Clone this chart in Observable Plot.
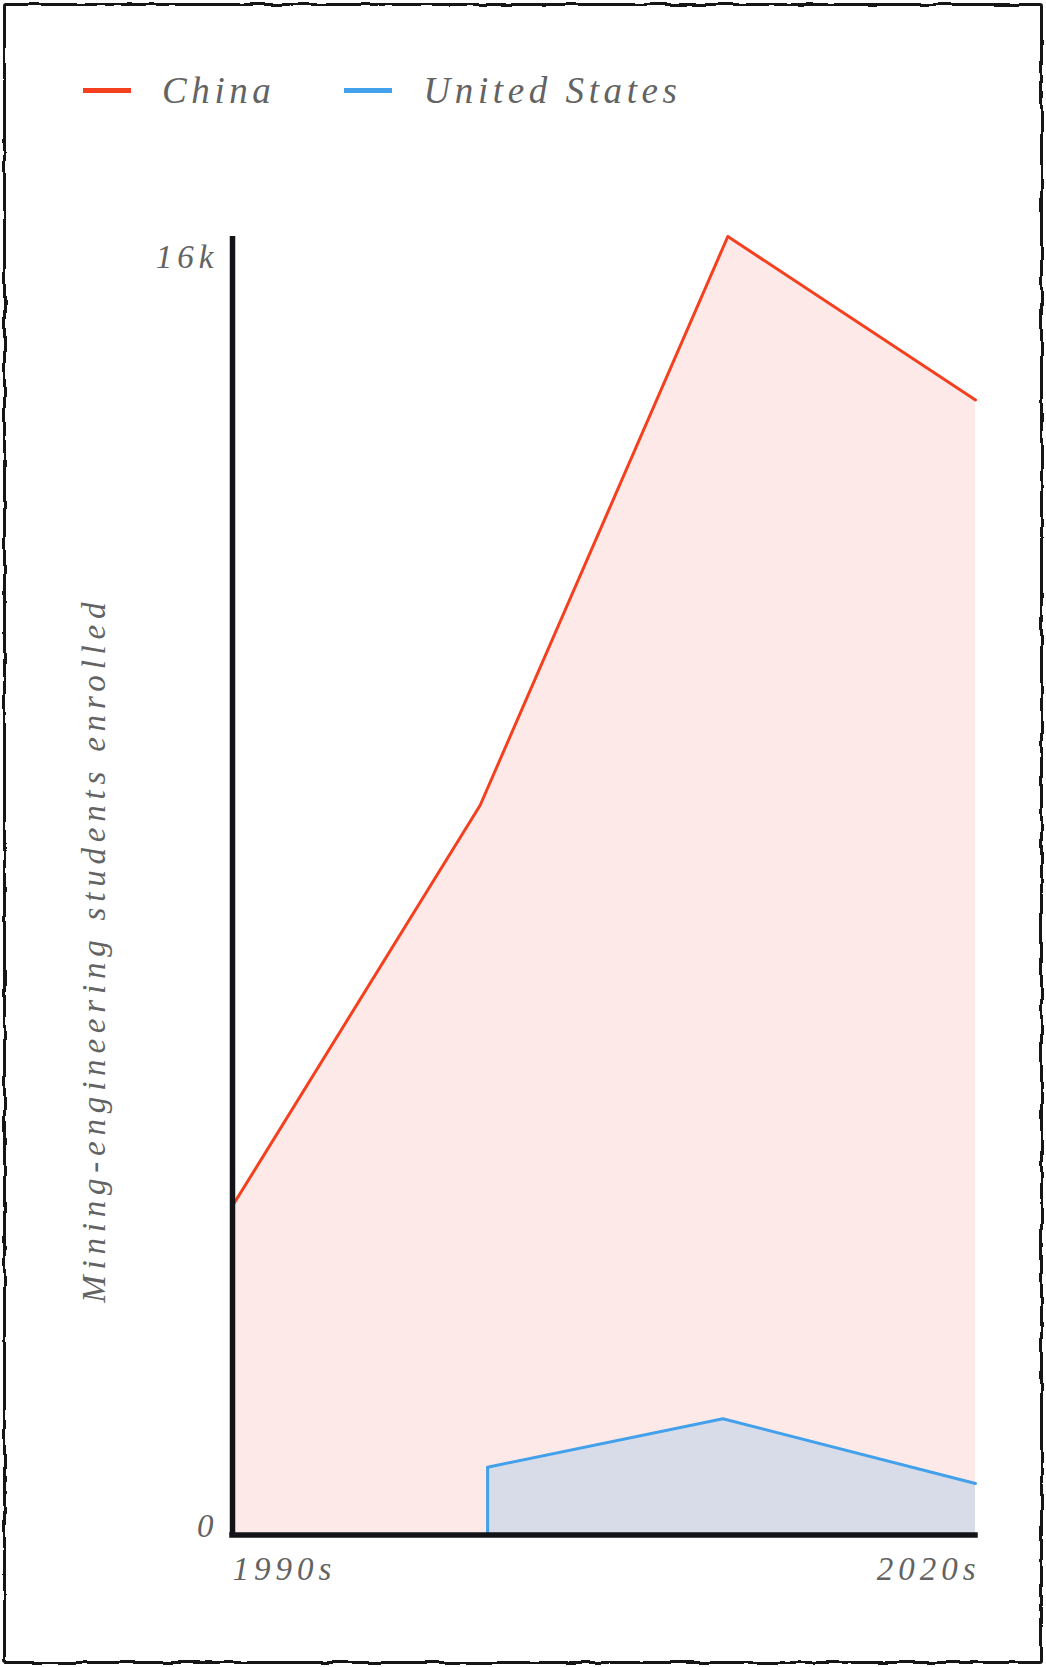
<!DOCTYPE html>
<html><head><meta charset="utf-8">
<script src="https://cdn.jsdelivr.net/npm/d3@7"></script>
<script src="https://cdn.jsdelivr.net/npm/@observablehq/plot@0.6"></script>
<style>
html,body{margin:0;padding:0;background:#fff;}
#wrap{position:relative;width:1046px;height:1667px;overflow:hidden;font-family:"Liberation Serif",serif;}
#border{position:absolute;left:3px;top:3px;right:3px;bottom:3px;border:3.5px solid #151515;border-radius:3px;filter:url(#rough);}
#legend{position:absolute;left:83px;top:72px;height:36px;display:flex;align-items:center;gap:69px;}
.item{display:flex;align-items:center;height:36px;}
.sw{width:48px;height:5px;margin-right:31px;}
.lab{font-style:italic;font-size:37px;letter-spacing:4.6px;color:#636363;line-height:1;white-space:nowrap;}
#chart{position:absolute;left:0;top:150px;}
#chart text{font-style:italic;letter-spacing:5px;}
#chart g.ylab text{letter-spacing:5.8px;}
</style></head>
<body>
<svg width="0" height="0" style="position:absolute"><filter id="rough" x="-2%" y="-2%" width="104%" height="104%"><feTurbulence type="fractalNoise" baseFrequency="0.045" numOctaves="2" seed="7"/><feDisplacementMap in="SourceGraphic" scale="4.5" xChannelSelector="R" yChannelSelector="G"/></filter></svg>
<div id="wrap"><div id="border"></div><div id="legend"></div><div id="chart"></div></div>
<script>
// ---- data ----
const decades = ["1990s", "2000s", "2010s", "2020s"];
const chinaYears = [1990, 2000, 2010, 2020];
const chinaValues = [4150, 9200, 16370, 14310];
const usYears = [2000.3, 2009.8, 2020];
const usValues = [855, 1465, 650];
const seriesNames = ["China", "United States"];
const seriesColors = ["#f4401f", "#42a1ea"];
const seriesFills = ["#fdeae8", "#d8dce8"];
const yTicks = [0, 16000];
const yTickLabels = ["0", "16k"];
const yLabel = "Mining-engineering students enrolled";

// ---- legend ----
const legend = document.getElementById("legend");
seriesNames.forEach((name, i) => {
  const item = document.createElement("div");
  item.className = "item";
  const sw = document.createElement("div");
  sw.className = "sw";
  sw.style.background = seriesColors[i];
  const lab = document.createElement("span");
  lab.className = "lab";
  lab.textContent = name;
  item.appendChild(sw); item.appendChild(lab);
  legend.appendChild(item);
});

// ---- chart ----
const chinaData = chinaYears.map((x, i) => ({x, y: chinaValues[i]}));
const usData = usYears.map((x, i) => ({x, y: usValues[i]}));
const xFirst = chinaYears[0], xLast = chinaYears[chinaYears.length - 1];

const plot = Plot.plot({
  width: 1046,
  height: 1517,
  marginTop: 86,
  marginBottom: 132.5,
  marginLeft: 232,
  marginRight: 71,
  x: {domain: [xFirst, xLast]},
  y: {domain: [0, d3.max(chinaValues)]},
  style: {fontFamily: "'Liberation Serif', serif", fontSize: "33px", color: "#636363", background: "transparent", overflow: "visible"},
  marks: [
    Plot.areaY(chinaData, {x: "x", y: "y", fill: seriesFills[0]}),
    Plot.lineY(chinaData, {x: "x", y: "y", stroke: seriesColors[0], strokeWidth: 3}),
    Plot.areaY(usData, {x: "x", y: "y", fill: seriesFills[1]}),
    Plot.ruleX(usData.slice(0, 1), {x: "x", y1: 0, y2: "y", stroke: seriesColors[1], strokeWidth: 3}),
    Plot.lineY(usData, {x: "x", y: "y", stroke: seriesColors[1], strokeWidth: 3}),
    Plot.ruleX([xFirst], {stroke: "#141418", strokeWidth: 5.5}),
    Plot.ruleY([0], {stroke: "#141418", strokeWidth: 5.5, strokeLinecap: "square"}),
    Plot.axisY({ticks: yTicks, tickFormat: d => yTickLabels[yTicks.indexOf(d)], tickSize: 0, tickPadding: 14, dy: -8.5, label: null, fontSize: 33}),
    Plot.axisX({ticks: [xFirst], tickFormat: () => decades[0], textAnchor: "start", tickSize: 0, tickPadding: 22, label: null, fontSize: 33}),
    Plot.axisX({ticks: [xLast], tickFormat: () => decades[decades.length - 1], textAnchor: "end", dx: 5, tickSize: 0, tickPadding: 22, label: null, fontSize: 33}),
    Plot.text([yLabel], {text: d => d, frameAnchor: "left", rotate: -90, dx: -128, dy: 64, fontSize: 33, textAnchor: "middle", lineAnchor: "bottom", fill: "#636363", className: "ylab"})
  ]
});
document.getElementById("chart").appendChild(plot);
</script>
</body></html>
